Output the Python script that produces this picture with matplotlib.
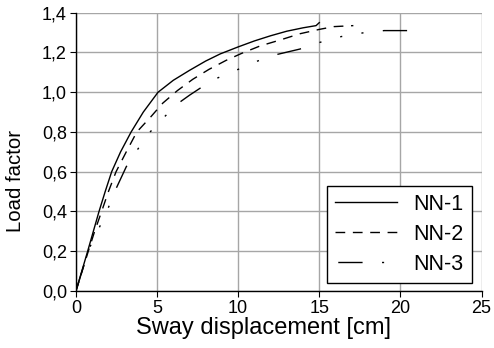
import matplotlib
matplotlib.use("Agg")
import matplotlib.pyplot as plt
from matplotlib.ticker import FixedLocator, FixedFormatter

plt.rcParams['font.family'] = ['Liberation Sans', 'DejaVu Sans']

# ---- data ----
nn1_x = [0, 0.36, 0.72, 1.07, 1.42, 1.8, 2.2, 2.75, 3.4, 4.15, 5.06, 6.0, 7.0, 8.0, 8.9, 10.0, 11.0, 12.0, 13.0, 14.0, 14.8, 15.0]
nn1_y = [0, 0.10, 0.20, 0.30, 0.40, 0.50, 0.60, 0.70, 0.80, 0.90, 1.00, 1.06, 1.11, 1.157, 1.193, 1.228, 1.258, 1.284, 1.307, 1.324, 1.335, 1.35]

nn2_x = [0, 0.38, 0.76, 1.15, 1.58, 2.0, 2.47, 3.1, 3.75, 4.6, 5.35, 6.25, 7.2, 8.2, 9.25, 10.23, 11.36, 12.6, 13.8, 15.0, 15.9, 17.1]
nn2_y = [0, 0.10, 0.20, 0.30, 0.40, 0.50, 0.60, 0.70, 0.80, 0.875, 0.945, 1.008, 1.065, 1.115, 1.16, 1.196, 1.233, 1.263, 1.294, 1.316, 1.33, 1.335]

nn3_x = [0, 0.45, 0.85, 1.5, 2.0, 2.5, 3.1, 3.78, 4.57, 5.5, 6.4, 7.0, 7.65, 8.68, 10.0, 11.2, 12.4, 13.8, 15.0, 16.36, 17.8, 19.0, 20.5]
nn3_y = [0, 0.12, 0.22, 0.33, 0.42, 0.52, 0.625, 0.71, 0.80, 0.88, 0.95, 0.985, 1.02, 1.07, 1.115, 1.157, 1.19, 1.217, 1.25, 1.28, 1.30, 1.31, 1.31]

series_names = ["NN-1", "NN-2", "NN-3"]

x_ticks = [0, 5, 10, 15, 20, 25]
x_tick_labels = ["0", "5", "10", "15", "20", "25"]
y_ticks = [0.0, 0.2, 0.4, 0.6, 0.8, 1.0, 1.2, 1.4]
y_tick_labels = ["0,0", "0,2", "0,4", "0,6", "0,8", "1,0", "1,2", "1,4"]

fig = plt.figure(figsize=(4.94, 3.48), dpi=100)
ax = fig.add_axes([0.1538, 0.1638, 0.8209, 0.7997])

ax.plot(nn1_x, nn1_y, color='black', lw=1.0, linestyle='-', label=series_names[0])
ax.plot(nn2_x, nn2_y, color='black', lw=1.0, linestyle=(0, (7, 5.5)), label=series_names[1])
ax.plot(nn3_x, nn3_y, color='black', lw=1.0,
        linestyle=(76, (17.5, 14, 1.5, 14, 1.5, 14, 1.5, 14)), label=series_names[2])

ax.set_xlim(0, 25)
ax.set_ylim(0, 1.4)
ax.xaxis.set_major_locator(FixedLocator(x_ticks))
ax.xaxis.set_major_formatter(FixedFormatter(x_tick_labels))
ax.yaxis.set_major_locator(FixedLocator(y_ticks))
ax.yaxis.set_major_formatter(FixedFormatter(y_tick_labels))

ax.grid(True, color='#a6a6a6', lw=1.0)
ax.set_axisbelow(True)
for s in ['top', 'right']:
    ax.spines[s].set_visible(False)
for s in ['left', 'bottom']:
    ax.spines[s].set_color('black')
    ax.spines[s].set_linewidth(1.0)

ax.tick_params(direction='out', length=4.5, width=0.8, colors='black', labelsize=13, pad=2)

ax.set_xlabel("Sway displacement [cm]", fontsize=17)
ax.xaxis.set_label_coords((264 - 76) / 406.0, -0.095)
ax.set_ylabel("Load factor", fontsize=14.7)
ax.yaxis.set_label_coords(-0.125, 0.395)

leg = ax.legend(loc='lower right', bbox_to_anchor=(0.9766, 0.0287),
                fontsize=15.5, frameon=True, fancybox=False, framealpha=1,
                edgecolor='black', handlelength=2.9, handletextpad=0.75,
                labelspacing=0.42, borderpad=0.38, borderaxespad=0)
leg.get_frame().set_linewidth(1.0)

fig.savefig("out.png", dpi=100)
